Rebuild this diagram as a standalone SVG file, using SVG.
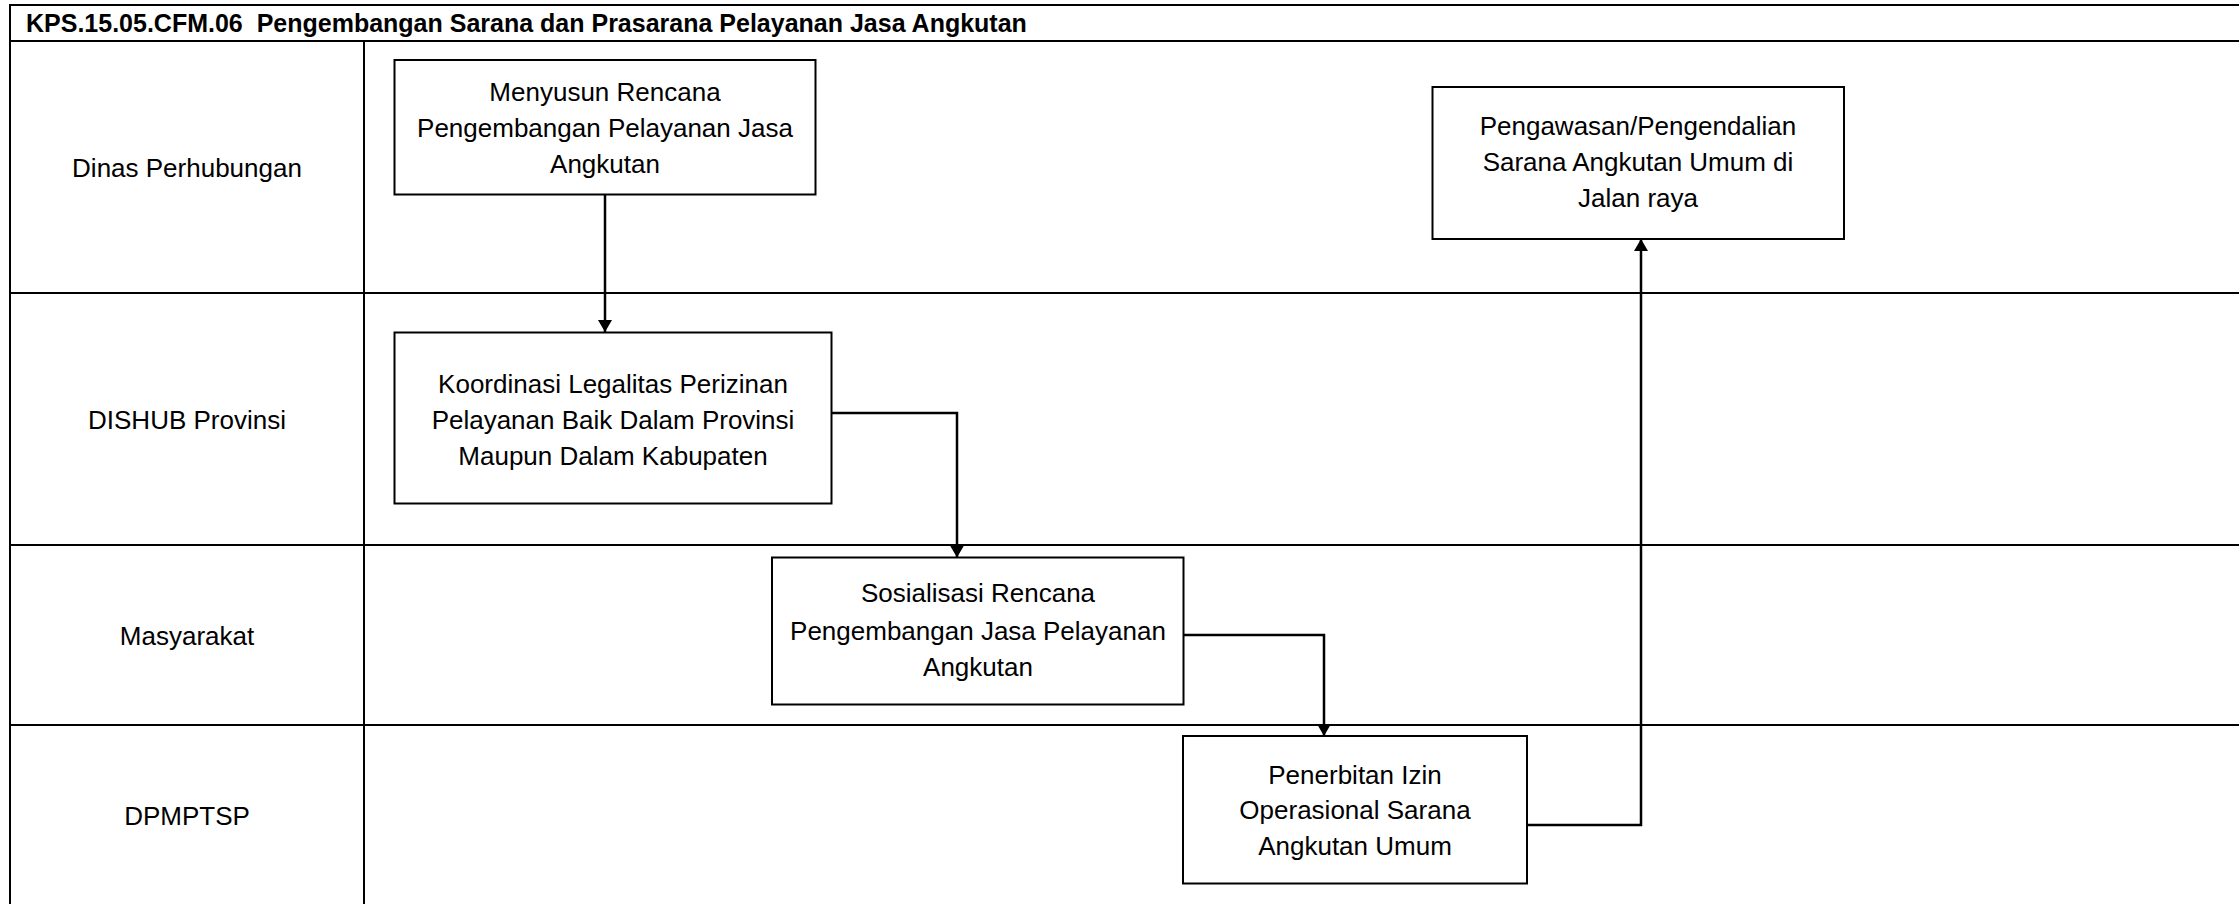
<svg xmlns="http://www.w3.org/2000/svg" width="2239" height="904" viewBox="0 0 2239 904">
<style>
.frame{stroke:#000;stroke-width:2;fill:none}
.box{fill:#fff;stroke:#000;stroke-width:2}
.t{font-family:"Liberation Sans",Arial,sans-serif;font-size:26px;fill:#000;text-anchor:middle}
.title{font-family:"Liberation Sans",Arial,sans-serif;font-size:25px;font-weight:bold;fill:#000}
.conn{stroke:#000;stroke-width:2.5;fill:none}
</style>
<defs>
<marker id="ah" viewBox="0 0 12 14" refX="12" refY="7" markerWidth="12" markerHeight="14" markerUnits="userSpaceOnUse" orient="auto">
<path d="M0,0 L12,7 L0,14 Z" fill="#000"/>
</marker>
</defs>
<rect width="2239" height="904" fill="#fff"/>
<g id="frame">
<line class="frame" x1="10" y1="5" x2="2239" y2="5"/>
<line class="frame" x1="10" y1="4" x2="10" y2="904"/>
<line class="frame" x1="10" y1="41" x2="2239" y2="41"/>
<line class="frame" x1="10" y1="293" x2="2239" y2="293"/>
<line class="frame" x1="10" y1="545" x2="2239" y2="545"/>
<line class="frame" x1="10" y1="725" x2="2239" y2="725"/>
<line class="frame" x1="364" y1="41" x2="364" y2="904"/>
<text class="title" x="26" y="32" xml:space="preserve">KPS.15.05.CFM.06  Pengembangan Sarana dan Prasarana Pelayanan Jasa Angkutan</text>
</g>
<g id="lanes">
<text class="t" x="187" y="177">Dinas Perhubungan</text>
<text class="t" x="187" y="429">DISHUB Provinsi</text>
<text class="t" x="187" y="645">Masyarakat</text>
<text class="t" x="187" y="825">DPMPTSP</text>
</g>
<g id="connectors">
<line class="conn" x1="605" y1="195" x2="605" y2="332" marker-end="url(#ah)"/>
<polyline class="conn" points="831,413 957,413 957,557.5" marker-end="url(#ah)"/>
<polyline class="conn" points="1184,635 1324,635 1324,736" marker-end="url(#ah)"/>
<polyline class="conn" points="1527,825 1641,825 1641,239" marker-end="url(#ah)"/>
</g>
<g id="n1">
<rect class="box" x="394.5" y="60" width="421" height="134.5"/>
<text class="t" x="605" y="101">Menyusun Rencana</text>
<text class="t" x="605" y="137">Pengembangan Pelayanan Jasa</text>
<text class="t" x="605" y="173">Angkutan</text>
</g>
<g id="n2">
<rect class="box" x="394.5" y="332.5" width="437" height="171"/>
<text class="t" x="613" y="393">Koordinasi Legalitas Perizinan</text>
<text class="t" x="613" y="429">Pelayanan Baik Dalam Provinsi</text>
<text class="t" x="613" y="465">Maupun Dalam Kabupaten</text>
</g>
<g id="n3">
<rect class="box" x="772" y="557.5" width="411.5" height="147"/>
<text class="t" x="978" y="602">Sosialisasi Rencana</text>
<text class="t" x="978" y="640">Pengembangan Jasa Pelayanan</text>
<text class="t" x="978" y="676">Angkutan</text>
</g>
<g id="n4">
<rect class="box" x="1183" y="736" width="344" height="147.5"/>
<text class="t" x="1355" y="784">Penerbitan Izin</text>
<text class="t" x="1355" y="819">Operasional Sarana</text>
<text class="t" x="1355" y="855">Angkutan Umum</text>
</g>
<g id="n5">
<rect class="box" x="1432.5" y="87" width="411.5" height="152"/>
<text class="t" x="1638" y="135">Pengawasan/Pengendalian</text>
<text class="t" x="1638" y="171">Sarana Angkutan Umum di</text>
<text class="t" x="1638" y="207">Jalan raya</text>
</g>
</svg>
